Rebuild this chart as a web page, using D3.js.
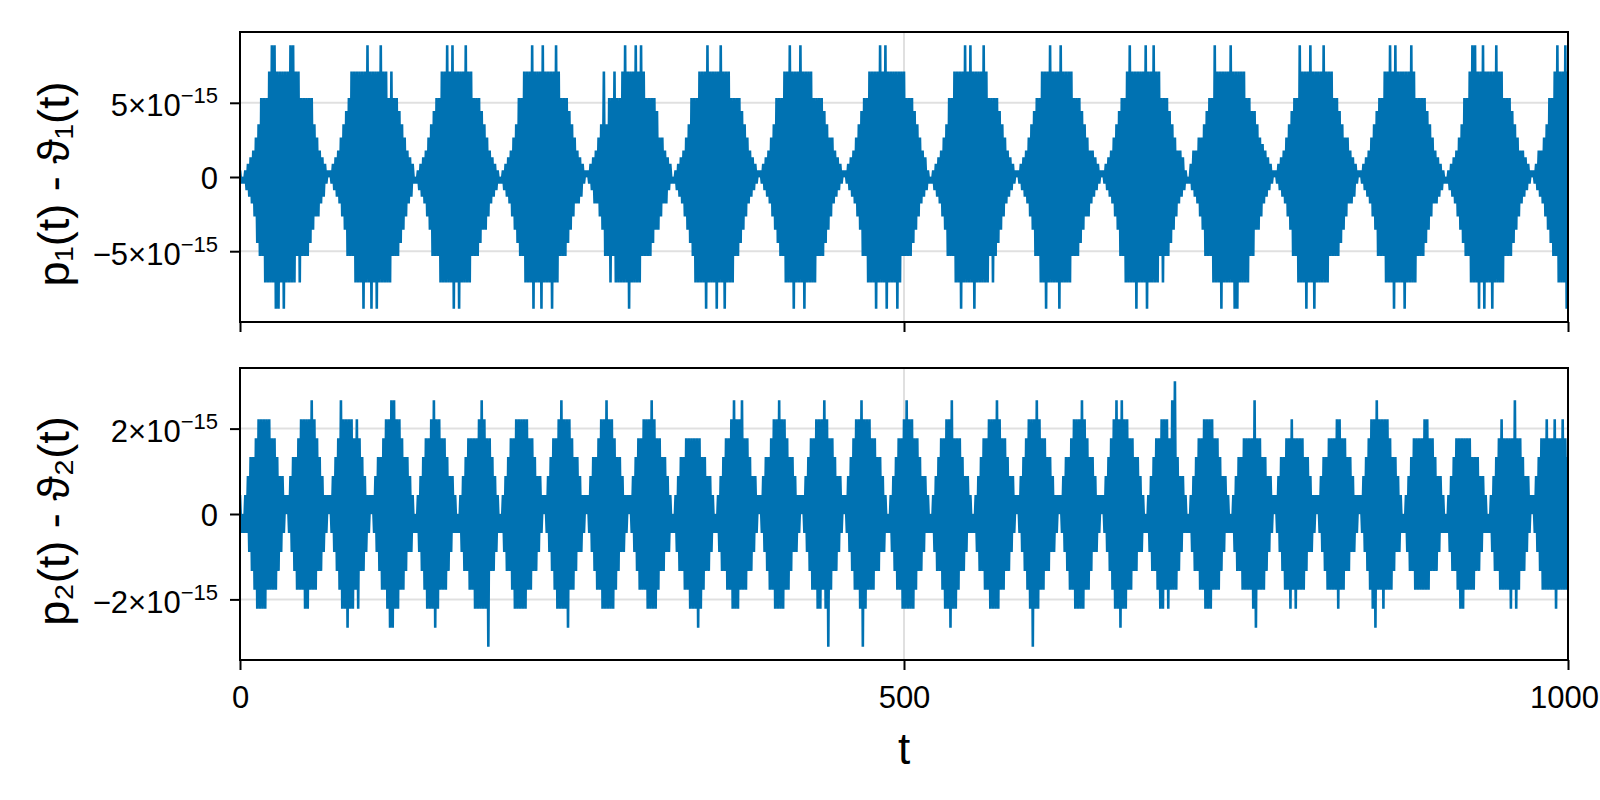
<!DOCTYPE html>
<html>
<head>
<meta charset="utf-8">
<script src="https://cdn.jsdelivr.net/npm/d3@7"></script>
<style>
  html, body { margin: 0; padding: 0; background: #ffffff; }
  svg { display: block; }
</style>
</head>
<body>
<svg id="chart" width="1600" height="800"></svg>
<script>
// ---------------- data ----------------
// values are stored in units of 2^-51 (one "ulp" step visible in the plot)
const ulp = 4.440892098500626e-16;
const tStart = 0;
const tStep = 1;

const xTicks = [0, 500, 1000];
const xTickLabels = ["0", "500", "1000"];

const topYTicks = [-5e-15, 0, 5e-15];
const topYTickMant = ["\u22125\u00d710", "0", "5\u00d710"];
const topYTickExp = ["\u221215", "", "\u221215"];

const bottomYTicks = [-2e-15, 0, 2e-15];
const bottomYTickMant = ["\u22122\u00d710", "0", "2\u00d710"];
const bottomYTickExp = ["\u221215", "", "\u221215"];

const topYLabel = "p\u2081(t) - \u03d1\u2081(t)";
const bottomYLabel = "p\u2082(t) - \u03d1\u2082(t)";
const xLabel = "t";

// p1(t) - theta1(t), t = 0 .. 1000
const p1Units = [
1,-1,
0,-1,1,-2,2,-3,3,-4,4,-6,6,-10,8,-12,12,-12,12,-16,12,-16,16,-16,20,-16,20,-20,16,-20,16,-16,16,-20,16,-16,16,-16,20,-16,20,-16,16,-12,16,-16,12,-12,12,-12,12,-12,12,-10,12,-8,8,-6,6,-6,4,-4,3,-3,2,-1,1,
0,1,-1,2,-2,3,-3,4,-4,6,-6,8,-8,10,-12,12,-12,16,-12,16,-16,16,-16,16,-16,16,-20,16,-16,20,-16,16,-20,16,-16,16,-20,16,-16,20,-16,16,-16,16,-16,12,-16,16,-12,12,-12,12,-12,10,-10,8,-8,6,-6,4,-4,3,-3,2,-1,
0,-1,1,-2,2,-3,3,-4,4,-6,6,-8,8,-12,10,-12,12,-12,12,-16,16,-16,16,-16,20,-16,16,-16,20,-20,16,-16,16,-20,16,-16,16,-16,20,-16,16,-16,16,-12,12,-12,12,-12,12,-10,10,-8,8,-8,6,-6,4,-4,3,-3,2,-2,1,-1,
0,-1,1,-2,2,-3,3,-4,4,-6,6,-8,8,-10,12,-12,12,-12,16,-16,16,-16,16,-16,20,-20,16,-16,16,-16,16,-20,20,-16,16,-16,16,-16,16,-20,16,-16,20,-16,16,-12,12,-12,12,-12,12,-10,10,-8,8,-6,6,-4,4,-4,3,-3,2,-1,1,
0,1,-1,2,-2,3,-4,4,-4,6,-6,8,-8,16,-12,8,-12,12,-16,12,-12,16,-16,12,-16,12,-16,16,-16,20,-16,16,-20,16,-16,16,-16,20,-16,16,-16,20,-12,16,-12,12,-12,12,-12,12,-10,12,-8,10,-8,6,-6,6,-4,4,-4,3,-2,2,-1,
0,-1,1,-2,2,-3,3,-4,4,-6,6,-8,8,-10,12,-12,12,-16,12,-16,16,-16,16,-16,16,-20,20,-16,16,-16,16,-16,16,-20,16,-16,20,-16,16,-20,16,-16,16,-16,12,-16,12,-12,12,-12,12,-10,10,-8,8,-6,6,-4,4,-3,3,-2,2,-1,1,
0,1,-1,2,-2,3,-3,4,-4,6,-6,8,-8,12,-10,12,-12,12,-12,16,-16,16,-16,20,-16,16,-20,16,-16,16,-16,20,-16,16,-20,16,-16,16,-16,16,-16,12,-16,12,-12,12,-12,12,-12,10,-10,8,-8,6,-6,6,-4,4,-3,3,-2,2,-1,1,
0,1,-1,2,-2,3,-3,4,-4,6,-6,8,-8,10,-12,12,-12,12,-16,16,-16,16,-16,16,-20,16,-16,20,-16,16,-16,20,-20,16,-16,16,-16,16,-16,16,-20,16,-16,16,-12,16,-12,12,-12,12,-12,12,-10,10,-8,8,-6,6,-4,4,-3,3,-2,1,-1,
0,-1,1,-2,2,-3,3,-4,4,-6,6,-8,8,-12,12,-12,12,-12,16,-16,16,-16,16,-20,16,-16,20,-16,16,-16,20,-16,16,-20,16,-16,16,-16,16,-16,20,-16,16,-16,12,-12,12,-16,12,-12,12,-10,10,-8,8,-6,6,-4,4,-3,3,-2,2,-1,1,
0,1,-1,2,-2,3,-3,4,-4,6,-6,8,-8,10,-12,12,-12,12,-16,16,-16,16,-20,16,-16,20,-16,16,-16,16,-16,16,-20,20,-16,16,-16,16,-16,16,-16,16,-12,12,-12,12,-12,12,-10,10,-8,8,-6,6,-6,4,-4,4,-3,3,-2,2,-1,1,
0,1,-1,2,-2,3,-3,4,-4,6,-6,8,-8,10,-12,12,-12,12,-16,16,-16,20,-16,16,-16,16,-20,16,-16,16,-16,16,-16,20,-20,16,-16,16,-16,20,-16,16,-16,16,-12,12,-16,12,-12,12,-12,10,-10,8,-8,6,-6,4,-4,4,-3,3,-2,1,-1,
0,-1,2,-2,4,-3,4,-4,6,-6,6,-8,8,-12,10,-12,12,-12,12,-16,20,-16,16,-16,16,-20,16,-16,16,-16,16,-16,20,-16,16,-20,16,-20,16,-16,16,-16,16,-16,12,-16,12,-12,10,-12,10,-8,8,-8,6,-6,5,-4,4,-3,3,-2,2,-1,1,
0,1,-1,2,-2,3,-3,4,-4,6,-6,8,-8,10,-12,12,-12,12,-16,20,-16,16,-16,16,-20,16,-16,20,-16,16,-20,16,-16,16,-16,16,-16,20,-16,16,-16,16,-12,16,-12,12,-12,12,-12,10,-10,8,-8,6,-6,6,-4,4,-4,3,-3,2,-1,1,
0,1,-1,2,-2,3,-3,4,-4,6,-6,8,-8,10,-12,12,-12,12,-12,16,-16,16,-16,20,-16,16,-20,20,-16,16,-16,16,-16,16,-20,16,-16,16,-16,20,-16,16,-16,12,-12,12,-12,12,-12,12,-10,10,-8,8,-6,6,-4,4,-4,3,-3,2,-2,1,-1,
0,-1,1,-2,2,-3,3,-4,4,-6,6,-8,8,-10,12,-12,12,-12,16,-16,20,-16,20,-16,16,-20,16,-16,20,-20,16,-16,16,-16,16,-20,16,-16,20,-16,16,-16,16,-16,12,-12,12,-12,12,-12,10,-10,8,-8,6,-6,4,-4,4,-3,3,-2,2,-1,1,
0,1,-1,2,-2,4,-3,4,-4,6,-6,8,-8,12,-10,12,-12,16,-12,20,-16,16,-16,16,-16,20,-20,16
];

// p2(t) - theta2(t), t = 0 .. 1000
const p2Units = [
1,-1,
0,-1,1,-1,2,-2,3,-3,3,-4,4,-5,5,-5,5,-5,5,-5,5,-4,5,-4,4,-4,4,-4,3,-3,2,-2,2,-1,1,
0,1,-1,2,-2,3,-3,3,-4,4,-4,5,-4,5,-5,5,-5,5,-4,6,-4,5,-4,4,-3,3,-3,2,-2,1,-1,1,
0,1,-1,2,-2,3,-3,4,-4,6,-5,5,-5,5,-6,5,-5,5,-5,4,-4,5,-5,4,-3,3,-3,2,-2,1,-1,1,
0,1,-1,2,-2,3,-3,3,-4,4,-4,5,-5,5,-6,6,-6,6,-5,5,-5,5,-4,4,-4,3,-3,3,-2,2,-2,1,-1,
0,-1,1,-2,2,-3,3,-4,4,-5,4,-5,5,-5,6,-6,5,-5,5,-4,4,-4,4,-4,3,-3,2,-2,2,-1,1,-1,
0,-1,1,-2,2,-3,3,-3,4,-4,4,-4,4,-5,4,-5,5,-5,6,-5,5,-5,4,-7,4,-3,3,-3,2,-2,1,-1,
0,-1,1,-2,2,-3,3,-3,4,-4,4,-5,5,-5,5,-5,5,-5,5,-5,5,-4,4,-4,4,-3,3,-3,2,-2,2,-1,1,
0,1,-1,2,-2,3,-3,4,-4,4,-5,5,-5,6,-5,5,-5,5,-6,5,-4,4,-4,3,-3,3,-2,2,-2,1,-1,1,
0,1,-1,2,-2,3,-3,3,-4,4,-4,5,-5,5,-5,6,-5,5,-5,5,-5,4,-4,3,-3,3,-2,2,-2,1,-1,1,
0,1,-1,2,-2,3,-3,4,-4,4,-4,5,-4,5,-5,5,-5,6,-5,5,-5,4,-4,4,-3,3,-3,3,-2,2,-2,1,-1,
0,-1,1,-2,2,-3,3,-3,3,-4,4,-4,4,-5,4,-5,4,-5,4,-6,4,-5,3,-4,3,-3,2,-3,2,-2,1,-1,
0,-1,1,-2,2,-3,3,-3,4,-4,4,-4,5,-5,6,-5,5,-5,5,-4,6,-4,4,-4,4,-3,3,-3,2,-2,2,-1,1,
0,1,-1,2,-2,3,-3,3,-4,4,-4,5,-5,5,-5,6,-5,5,-5,5,-4,4,-4,3,-3,3,-2,2,-2,1,-1,1,
0,1,-1,2,-2,3,-3,4,-4,4,-4,5,-5,5,-5,5,-4,6,-5,5,-7,4,-4,4,-3,3,-3,2,-2,2,-1,1,
0,1,-1,2,-2,3,-3,4,-4,5,-4,5,-5,6,-7,5,-5,5,-4,5,-4,4,-4,4,-3,3,-3,3,-2,2,-2,1,-1,
0,-1,1,-2,2,-3,3,-4,4,-4,4,-5,5,-5,6,-5,5,-5,5,-5,4,-4,4,-3,3,-3,2,-2,2,-1,1,-1,
0,-1,1,-2,2,-3,3,-3,4,-4,4,-5,5,-5,5,-6,6,-5,4,-5,4,-4,4,-3,3,-3,2,-2,2,-1,1,-1,
0,-1,1,-2,2,-3,3,-3,4,-4,4,-4,5,-5,5,-5,5,-5,6,-5,5,-4,4,-4,4,-3,3,-3,2,-2,2,-1,1,
0,1,-1,2,-2,3,-3,4,-4,5,-5,5,-7,5,-5,6,-5,5,-4,4,-4,4,-3,3,-3,3,-2,2,-2,1,-1,1,
0,1,-1,2,-2,3,-3,3,-4,4,-4,5,-5,5,-5,5,-5,6,-5,5,-4,4,-4,3,-3,3,-2,2,-2,1,-1,1,
0,1,-1,2,-2,3,-3,4,-4,5,-5,6,-5,5,-6,6,-5,5,-5,5,-4,4,-4,4,-3,3,-3,3,-2,2,-2,1,-1,
0,-1,1,-2,2,-3,3,-3,4,-4,4,-5,5,-5,5,-4,5,-5,4,-4,6,-4,7,-4,3,-3,2,-2,2,-1,1,-1,
0,-1,1,-2,2,-3,3,-3,4,-4,4,-4,5,-5,5,-5,5,-5,5,-4,4,-4,4,-4,3,-3,2,-2,2,-1,1,-1,
0,-1,1,-2,2,-3,3,-3,3,-4,4,-4,4,-4,4,-4,4,-5,6,-6,4,-4,4,-4,3,-4,3,-3,2,-2,2,-1,1,
0,1,-1,2,-2,3,-3,3,-4,4,-4,4,-5,5,-4,4,-5,4,-4,4,-4,4,-4,3,-3,3,-2,2,-2,1,-1,1,
0,1,-1,2,-2,3,-3,3,-4,4,-4,4,-4,4,-4,5,-5,5,-4,4,-4,4,-3,3,-3,3,-2,2,-2,1,-1,1,
0,1,-1,2,-2,3,-3,4,-4,5,-5,5,-6,6,-4,5,-4,5,-5,5,-4,5,-4,4,-4,3,-3,3,-2,2,-2,1,-1,
0,-1,1,-2,2,-3,3,-3,4,-4,4,-4,4,-4,4,-4,5,-4,5,-4,4,-3,4,-3,3,-3,2,-2,2,-1,1,-1,
0,-1,1,-2,2,-3,3,-3,4,-4,4,-5,4,-5,4,-4,4,-4,4,-4,3,-4,3,-3,3,-3,2,-2,2,-1,1,-1,
0,-1,1,-2,2,-3,3,-3,4,-4,5,-4,4,-4,4,-4,4,-5,4,-4,6,-5,4,-4,4,-3,3,-3,2,-2,2,-1,1,
0,1,-1,2,-2,3,-3,4,-4,4,-4,5,-4,4,-4,4,-4,5,-5,4,-4,4,-4,5,-4,4,-4,3
];

// ---------------- drawing ----------------
const FONT = "'Liberation Sans', Arial, Helvetica, sans-serif";
const LINE_COLOR = "#0072B2";
const GRID_COLOR = "rgba(0,0,0,0.12)";

const plotLeft = 240, plotRight = 1568;
const svg = d3.select("#chart");
svg.append("rect").attr("width", 1600).attr("height", 800).attr("fill", "#ffffff");

const x = d3.scaleLinear().domain([0, 1000]).range([plotLeft, plotRight]);

const panels = [
  { units: p1Units, top: 32, bottom: 322, ticks: topYTicks, mant: topYTickMant, exp: topYTickExp, label: topYLabel, xLabels: false },
  { units: p2Units, top: 368, bottom: 660, ticks: bottomYTicks, mant: bottomYTickMant, exp: bottomYTickExp, label: bottomYLabel, xLabels: true }
];

panels.forEach((p, k) => {
  const values = p.units.map(u => u * ulp);
  const data = values.map((v, i) => ({ t: tStart + i * tStep, v: v }));
  const ext = d3.extent(values);
  const pad = (ext[1] - ext[0]) * 0.05;
  const y = d3.scaleLinear().domain([ext[0] - pad, ext[1] + pad]).range([p.bottom, p.top]);

  const g = svg.append("g");

  // grid
  g.selectAll("line.hgrid").data(p.ticks).join("line")
    .attr("class", "hgrid")
    .attr("x1", plotLeft).attr("x2", plotRight)
    .attr("y1", d => y(d)).attr("y2", d => y(d))
    .attr("stroke", GRID_COLOR).attr("stroke-width", 2);
  g.selectAll("line.vgrid").data(xTicks).join("line")
    .attr("class", "vgrid")
    .attr("x1", d => x(d)).attr("x2", d => x(d))
    .attr("y1", p.top).attr("y2", p.bottom)
    .attr("stroke", GRID_COLOR).attr("stroke-width", 2);

  // clip + line
  svg.append("clipPath").attr("id", "clip" + k)
    .append("rect").attr("x", plotLeft).attr("y", p.top)
    .attr("width", plotRight - plotLeft).attr("height", p.bottom - p.top);

  const line = d3.line().x(d => x(d.t)).y(d => y(d.v));
  g.append("path").datum(data)
    .attr("clip-path", "url(#clip" + k + ")")
    .attr("fill", "none")
    .attr("stroke", LINE_COLOR)
    .attr("stroke-width", 2.6)
    .attr("d", line);

  // frame
  g.append("rect")
    .attr("x", plotLeft).attr("y", p.top)
    .attr("width", plotRight - plotLeft).attr("height", p.bottom - p.top)
    .attr("fill", "none").attr("stroke", "#000").attr("stroke-width", 2);

  // y axis
  const ya = g.append("g").attr("transform", `translate(${plotLeft},0)`)
    .call(d3.axisLeft(y).tickValues(p.ticks).tickSize(10).tickPadding(12).tickFormat(() => ""));
  ya.select(".domain").remove();
  ya.attr("font-family", FONT).attr("font-size", 31);
  ya.selectAll(".tick line").attr("stroke", "#000").attr("stroke-width", 2);
  ya.selectAll(".tick text").each(function (d, i) {
    const t = d3.select(this);
    t.text(null).attr("fill", "#000");
    t.append("tspan").text(p.mant[i]);
    if (p.exp[i]) {
      t.attr("dy", "13px");
      t.append("tspan").attr("dy", "-13px").attr("font-size", 22).text(p.exp[i]);
    } else {
      t.attr("dy", "11px");
    }
  });

  // x axis
  const xa = g.append("g").attr("transform", `translate(0,${p.bottom})`)
    .call(d3.axisBottom(x).tickValues(xTicks).tickSize(10).tickPadding(16)
      .tickFormat((d, i) => p.xLabels ? xTickLabels[i] : ""));
  xa.select(".domain").remove();
  xa.attr("font-family", FONT).attr("font-size", 31);
  xa.selectAll(".tick line").attr("stroke", "#000").attr("stroke-width", 2);
  xa.selectAll(".tick text").attr("fill", "#000")
    .attr("dx", (d, i) => (i === xTicks.length - 1 ? "-4px" : null));

  // y label
  const cy = (p.top + p.bottom) / 2 + 7;
  svg.append("text")
    .attr("transform", `translate(69,${cy}) rotate(-90)`)
    .attr("text-anchor", "middle")
    .attr("font-family", FONT)
    .attr("font-size", 45)
    .attr("fill", "#000")
    .text(p.label);
});

// x label
svg.append("text")
  .attr("x", x(500)).attr("y", 764)
  .attr("text-anchor", "middle")
  .attr("font-family", FONT)
  .attr("font-size", 44)
  .attr("fill", "#000")
  .text(xLabel);
</script>
</body>
</html>
